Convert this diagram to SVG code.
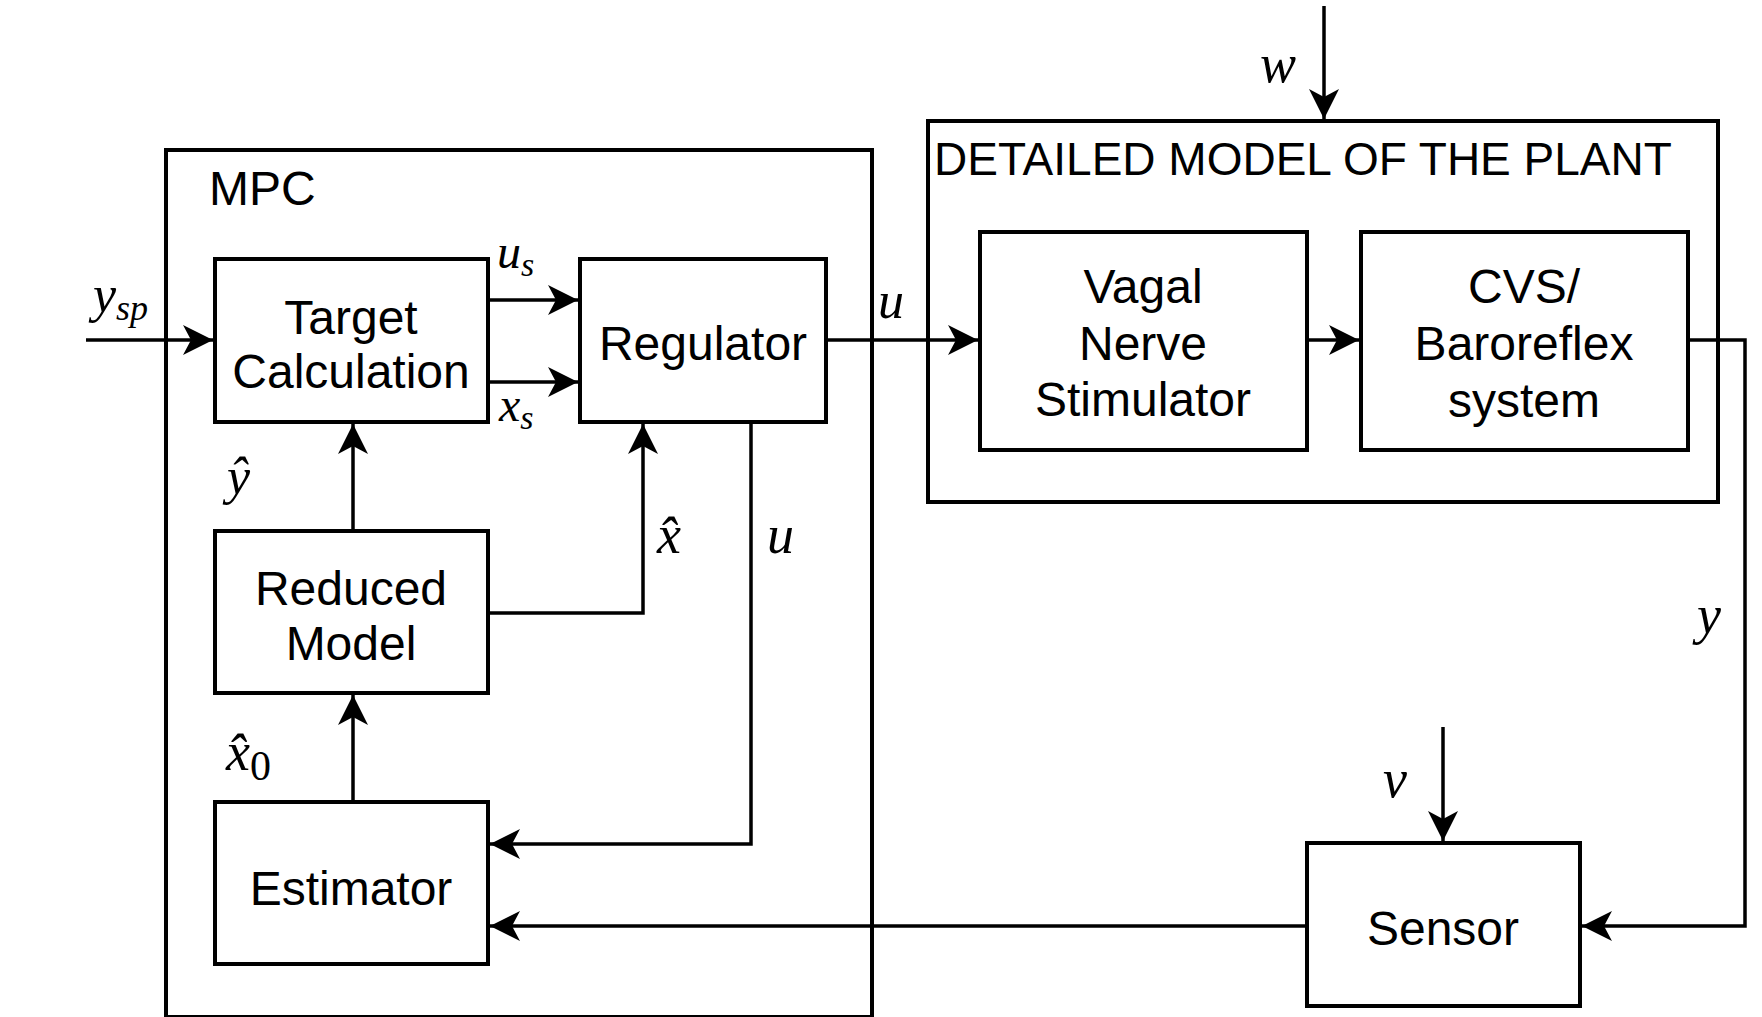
<svg xmlns="http://www.w3.org/2000/svg" width="1762" height="1017" viewBox="0 0 1762 1017">
<style>
.box{fill:none;stroke:#000;stroke-width:4}
.lbl{font-family:"Liberation Sans",Arial,sans-serif;font-size:48px;fill:#000;text-anchor:middle}
.ttl{font-family:"Liberation Sans",Arial,sans-serif;fill:#000}
.m{font-family:"Liberation Serif","Times New Roman",serif;font-style:italic;fill:#000}
.c{fill:none;stroke:#000;stroke-width:3.5;marker-end:url(#ah)}
</style>
<defs>
<marker id="ah" markerUnits="userSpaceOnUse" markerWidth="32" markerHeight="32" viewBox="0 0 32 32" refX="31" refY="16" orient="auto">
<path d="M1,1 L31,16 L1,31 L9,16 Z" fill="#000"/>
</marker>
</defs>
<rect width="1762" height="1017" fill="#fff"/>

<g id="mpc">
<rect class="box" x="166" y="150" width="706" height="867"/>
<text class="ttl" x="209" y="205" font-size="48">MPC</text>
</g>
<g id="plant">
<rect class="box" x="928" y="121" width="790" height="381"/>
<text class="ttl" x="934" y="175" font-size="46">DETAILED MODEL OF THE PLANT</text>
</g>
<g id="target">
<rect class="box" x="215" y="259" width="273" height="163"/>
<text class="lbl" x="351" y="334">Target</text>
<text class="lbl" x="351" y="388">Calculation</text>
</g>
<g id="regulator">
<rect class="box" x="580" y="259" width="246" height="163"/>
<text class="lbl" x="703" y="360">Regulator</text>
</g>
<g id="reduced">
<rect class="box" x="215" y="531" width="273" height="162"/>
<text class="lbl" x="351" y="605">Reduced</text>
<text class="lbl" x="351" y="660">Model</text>
</g>
<g id="estimator">
<rect class="box" x="215" y="802" width="273" height="162"/>
<text class="lbl" x="351" y="905">Estimator</text>
</g>
<g id="vagal">
<rect class="box" x="980" y="232" width="327" height="218"/>
<text class="lbl" x="1143" y="303">Vagal</text>
<text class="lbl" x="1143" y="360">Nerve</text>
<text class="lbl" x="1143" y="416">Stimulator</text>
</g>
<g id="cvs">
<rect class="box" x="1361" y="232" width="327" height="218"/>
<text class="lbl" x="1524" y="303">CVS/</text>
<text class="lbl" x="1524" y="360">Baroreflex</text>
<text class="lbl" x="1524" y="417">system</text>
</g>
<g id="sensor">
<rect class="box" x="1307" y="843" width="273" height="163"/>
<text class="lbl" x="1443" y="945">Sensor</text>
</g>

<g id="connectors">
<path class="c" d="M86,340 H213"/>
<path class="c" d="M488,300 H578"/>
<path class="c" d="M488,382 H578"/>
<path class="c" d="M353,531 V424"/>
<path class="c" d="M488,613 H643 V424"/>
<path class="c" d="M751,421 V844 H490"/>
<path class="c" d="M353,802 V695"/>
<path class="c" d="M826,340 H978"/>
<path class="c" d="M1307,340 H1359"/>
<path class="c" d="M1688,340 H1745 V926 H1582"/>
<path class="c" d="M1307,926 H490"/>
<path class="c" d="M1443,727 V841" stroke-width="3"/>
<path class="c" d="M1324,6 V119" stroke-width="3"/>
</g>

<g id="labels">
<text class="m" x="93" y="312" font-size="52">y<tspan font-size="36" dy="8">sp</tspan></text>
<text class="m" x="497" y="268" font-size="48">u<tspan font-size="34" dy="8">s</tspan></text>
<text class="m" x="499" y="421" font-size="48">x<tspan font-size="34" dy="8">s</tspan></text>
<text class="m" x="227" y="494" font-size="52">ŷ</text>
<text class="m" x="657" y="553" font-size="54">x̂</text>
<text class="m" x="767" y="553" font-size="54">u</text>
<text class="m" x="226" y="770" font-size="54">x̂<tspan font-style="normal" font-size="42" dy="10">0</tspan></text>
<text class="m" x="878" y="318" font-size="52">u</text>
<text class="m" x="1697" y="633" font-size="54">y</text>
<text class="m" x="1383" y="797" font-size="54">v</text>
<text class="m" x="1260" y="82" font-size="54">w</text>
</g>
</svg>
